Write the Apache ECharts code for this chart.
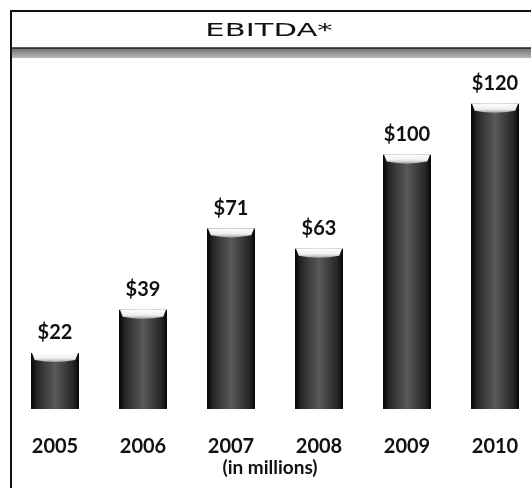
<!DOCTYPE html>
<html>
<head>
<meta charset="utf-8">
<script src="https://cdn.jsdelivr.net/npm/echarts@6/dist/echarts.min.js"></script>
<style>
  html, body { margin: 0; padding: 0; background: #fff; }
  #chart { width: 531px; height: 488px; }
</style>
</head>
<body>
<div id="chart"></div>
<script>
// EBITDA by year, in millions of dollars
const years = ['2005', '2006', '2007', '2008', '2009', '2010'];
const ebitda = [22, 39, 71, 63, 100, 120];
const titleText = 'EBITDA*';
const unitNote = '(in millions)';

const chart = echarts.init(document.getElementById('chart'));

const labelFont = 'Lato, "Open Sans", sans-serif';

const barFill = new echarts.graphic.LinearGradient(0, 0, 1, 0, [
  { offset: 0, color: '#050505' },
  { offset: 0.12, color: '#262626' },
  { offset: 0.5, color: '#5a5a5a' },
  { offset: 0.88, color: '#262626' },
  { offset: 1, color: '#050505' }
]);

const capFill = new echarts.graphic.LinearGradient(0, 0, 0, 1, [
  { offset: 0, color: '#ffffff' },
  { offset: 0.6, color: '#eeeeee' },
  { offset: 1, color: '#a0a0a0' }
]);

chart.setOption({
  animation: false,
  backgroundColor: '#ffffff',
  grid: { left: 11, width: 528, top: 58, bottom: 79, outerBoundsMode: 'none' },
  xAxis: {
    type: 'category',
    data: years,
    axisLine: { show: false },
    axisTick: { show: false },
    axisLabel: {
      margin: 28,
      fontFamily: labelFont,
      fontWeight: 'bold',
      fontSize: 20,
      color: '#111'
    }
  },
  yAxis: {
    type: 'value',
    min: 0,
    max: 138,
    show: false,
    splitLine: { show: false }
  },
  series: [
    {
      type: 'bar',
      data: ebitda,
      barWidth: 48,
      itemStyle: { color: barFill },
      label: {
        show: true,
        position: 'top',
        distance: 10,
        formatter: p => '$' + p.value,
        fontFamily: labelFont,
        fontWeight: 'bold',
        fontSize: 20,
        color: '#111'
      },
      z: 2
    },
    {
      // bevelled highlight along the top of each bar
      type: 'pictorialBar',
      data: ebitda,
      symbol: 'path://M0,0 L100,0 L94,10 Q50,16 6,10 Z',
      symbolSize: [46, 9],
      symbolPosition: 'end',
      symbolOffset: [0, 0],
      itemStyle: { color: capFill },
      z: 3,
      silent: true
    }
  ],
  graphic: [
    // outer frame
    {
      type: 'rect',
      shape: { x: 11, y: 11, width: 540, height: 500 },
      style: { fill: 'none', stroke: '#111', lineWidth: 2 },
      z: 5
    },
    // header band shadow
    {
      type: 'rect',
      shape: { x: 12, y: 48, width: 530, height: 10 },
      style: {
        fill: new echarts.graphic.LinearGradient(0, 0, 0, 1, [
          { offset: 0, color: '#6e6e6e' },
          { offset: 1, color: '#b8b8b8' }
        ])
      },
      z: 4
    },
    // header divider
    {
      type: 'line',
      shape: { x1: 11, y1: 48, x2: 540, y2: 48 },
      style: { stroke: '#222', lineWidth: 1.5 },
      z: 5
    },
    // title, set in a widened face
    {
      type: 'text',
      x: 269,
      y: 31,
      scaleX: 1.7,
      style: {
        text: titleText,
        font: '18px "DejaVu Sans", sans-serif',
        fill: '#111',
        align: 'center',
        verticalAlign: 'middle'
      },
      z: 10
    },
    {
      type: 'text',
      x: 270,
      y: 468,
      style: {
        text: unitNote,
        font: 'bold 19px ' + labelFont,
        fill: '#111',
        align: 'center',
        verticalAlign: 'middle'
      },
      z: 10
    }
  ]
});
</script>
</body>
</html>
